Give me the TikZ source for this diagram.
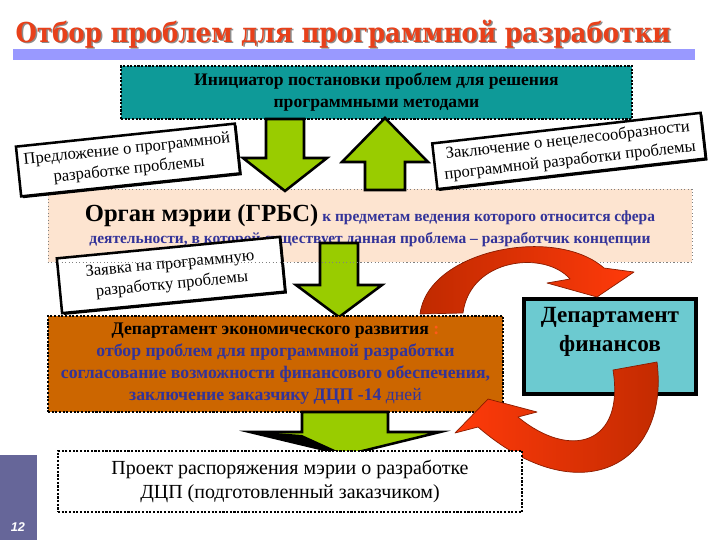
\documentclass[tikz,border=0pt]{standalone}
\usepackage{fontspec}
\setmainfont{Liberation Serif}
\newfontfamily\headfont{DejaVu Serif}
\newfontfamily\pagefont{Liberation Sans}
\usetikzlibrary{shadows}

\begin{document}
\begin{tikzpicture}[
    x=0.025cm, y=-0.025cm,
    every node/.style={font=\rmfamily},
]

% ---------------------------------------------------------------- colours
\definecolor{titlered}{HTML}{E8401A}
\definecolor{barlav}{HTML}{9999FF}
\definecolor{tealbox}{HTML}{0E9A98}
\definecolor{peach}{HTML}{FDE4D0}
\definecolor{deptorange}{HTML}{CC6600}
\definecolor{fincyan}{HTML}{6CCAD0}
\definecolor{textblue}{HTML}{333399}
\definecolor{colonred}{HTML}{FF5A1A}
\definecolor{arrowgreen}{HTML}{99CC00}
\definecolor{ribbonred}{HTML}{FF3A0A}
\definecolor{ribbondark}{HTML}{C02A00}
\definecolor{ribbonedge}{HTML}{8A1C00}
\definecolor{sidebar}{HTML}{666699}

\tikzset{
    titletext/.style={font=\headfont\bfseries\fontsize{19.5}{22}\selectfont,
        text=titlered, inner sep=0pt, anchor=base, xscale=0.895},
    dotbox/.style={draw=black, line width=1.5pt, dash pattern=on 1.5pt off 1.1pt,
        inner sep=0pt, align=center},
    initbox/.style={dotbox, fill=tealbox, minimum width=12.775cm,
        minimum height=1.325cm, font=\bfseries\fontsize{12.5}{15.6}\selectfont},
    organbox/.style={fill=peach, draw=gray, line width=0.5pt, dotted,
        minimum width=16.1cm, minimum height=1.825cm, inner sep=0pt,
        align=center, text=textblue, font=\bfseries\fontsize{11}{15.6}\selectfont},
    econbox/.style={dotbox, fill=deptorange, minimum width=11.375cm,
        minimum height=2.4cm, text=textblue, font=\bfseries\fontsize{12.6}{15.6}\selectfont},
    finbox/.style={draw=black, line width=2.2pt, fill=fincyan,
        minimum width=4.3cm, minimum height=2.375cm},
    fintext/.style={font=\bfseries\fontsize{16.5}{20.5}\selectfont,
        align=center, inner sep=0pt},
    projbox/.style={dotbox, fill=white, minimum width=11.6cm,
        minimum height=1.525cm, font=\fontsize{14.2}{17}\selectfont},
    note/.style={draw=black, line width=1.8pt, fill=white, align=center,
        inner sep=0pt, font=\fontsize{11.8}{14.5}\selectfont,
        general shadow={fill=black, shadow xshift=1.3pt, shadow yshift=-1.3pt}},
    greenarrow/.style={fill=arrowgreen, draw=black, line width=1.8pt, line join=miter},
    ribbon/.style={draw=ribbonedge, line width=0.5pt, line join=round},
}

% one unit = one pixel of the 720 x 540 slide, y runs down
\useasboundingbox (0,0) rectangle (720,540);
\fill[white] (0,0) rectangle (720,540);

% ---------------------------------------------------------------- heading
\fill[barlav] (13,49) rectangle (695,60);
\node[titletext, text=black!45] (titleshade) at (344.5,43.5)
    {Отбор проблем для программной разработки};
\node[titletext] (title) at (343,42)
    {Отбор проблем для программной разработки};

% ---------------------------------------------------------------- initiator
\node[initbox] (init) at (376.5,92.5)
    {Инициатор постановки проблем для решения\\программными методами};

% ---------------------------------------------------------------- mayor's office
\node[organbox] (organ) at (370,225.5)
    {{\color{black}\fontsize{17.5}{15.6}\selectfont Орган мэрии (ГРБС)} к предметам ведения которого относится сфера\\
     деятельности, в которой существует данная проблема – разработчик концепции};

% green arrows between initiator and office
\draw[greenarrow] (266,119) -- (304,119) -- (304,158) -- (327,158)
    -- (285,191) -- (243,158) -- (266,158) -- cycle;
\draw[greenarrow] (365,190) -- (405,190) -- (405,162) -- (428,162)
    -- (385,118) -- (342,162) -- (365,162) -- cycle;

% ---------------------------------------------------------------- notes
\node[note, minimum width=5.5cm, minimum height=1.25cm, rotate=6]
    (propose) at (128,160)
    {Предложение о программной\\разработке проблемы};
\node[note, minimum width=6.75cm, minimum height=1.15cm, rotate=6.5]
    (refuse) at (569,151)
    {Заключение о нецелесообразности\\программной разработки проблемы};

% office -> economic department
\draw[greenarrow] (320,243) -- (358,243) -- (358,285) -- (382,285)
    -- (339,317) -- (296,285) -- (320,285) -- cycle;

\node[note, minimum width=5.6cm, minimum height=1.375cm, rotate=5.5]
    (request) at (171,275)
    {Заявка на программную\\разработку проблемы};
\draw[gray, line width=0.5pt, dotted] (organ.south west) -- (organ.south east);

% ---------------------------------------------------------------- departments
\node[econbox] (econ) at (275.5,364)
    {{\color{black}Департамент экономического развития} {\color{colonred}:}\\
     отбор проблем для программной разработки\\
     согласование возможности финансового обеспечения,\\
     заключение заказчику ДЦП -14 {\mdseries дней}};

\node[finbox] (fin) at (610,346.5) {};
\node[fintext] (fintxt) at (610,332) {Департамент\\финансов};

% red ribbons: econ -> fin over the top, fin -> econ underneath
\draw[ribbon, left color=ribbondark, right color=ribbonred]
    (420,314) .. controls (428,250) and (555,225) .. (604,268)
    -- (634,272) -- (597,297) -- (547,283) -- (570,279)
    .. controls (545,250) and (470,258) .. (463,313) -- cycle;
\draw[ribbon, right color=ribbondark, left color=ribbonred]
    (613,370) -- (657,362)
    .. controls (670,465) and (580,515) .. (478,427)
    -- (455,433) -- (488,399) -- (537,412) -- (518,417)
    .. controls (570,460) and (625,445) .. (613,370) -- cycle;

% ---------------------------------------------------------------- draft order
\draw[greenarrow] (302,412) -- (388,412) -- (388,432) -- (440,432)
    -- (346,455) -- (250,432) -- (302,432) -- cycle;
\fill[black] (250,431) -- (302,435) -- (346,455) -- cycle;

\node[projbox] (draft) at (290,481.5)
    {Проект распоряжения мэрии о разработке\\ДЦП (подготовленный заказчиком)};

% ---------------------------------------------------------------- page number
\fill[sidebar] (0,455) rectangle (37,540);
\node[font=\pagefont\bfseries\itshape\fontsize{9}{9}\selectfont, text=white]
    (pageno) at (18,527) {12};

\end{tikzpicture}
\end{document}
